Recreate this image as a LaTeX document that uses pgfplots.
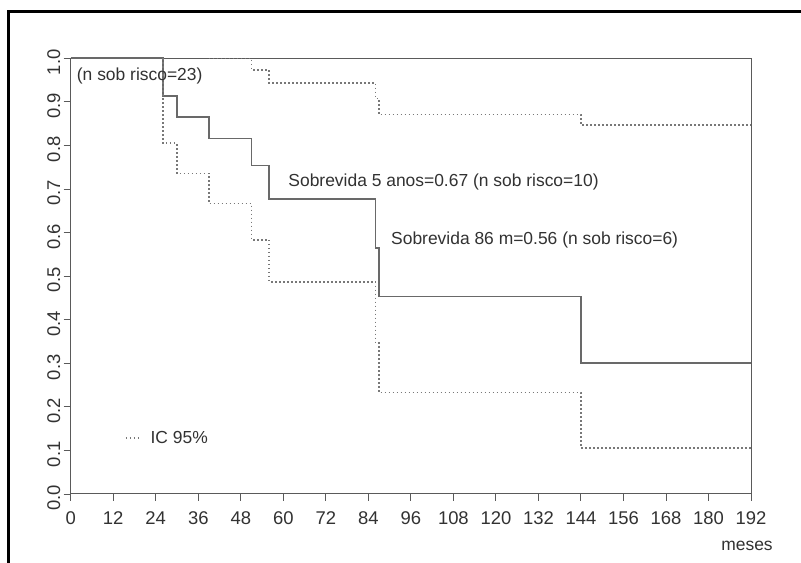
\documentclass[border=0pt]{standalone}
\usepackage{fontspec}
\setmainfont{Liberation Sans}
\usepackage{pgfplots}
\pgfplotsset{compat=1.18}
\definecolor{txt}{RGB}{50,50,50}
\definecolor{solidc}{RGB}{105,105,105}
\definecolor{dotc}{RGB}{120,120,120}
\definecolor{axc}{RGB}{90,90,90}
\begin{document}
\begin{tikzpicture}[x=1bp,y=1bp]
\useasboundingbox (0,0) rectangle (801,563);
\fill[white] (0,0) rectangle (801,563);
\draw[black, line width=3bp] (8,-3) -- (8,551) -- (804,551);
\begin{axis}[
  at={(70.7bp,69bp)}, anchor=south west,
  scale only axis, width=680.3bp, height=435.7bp,
  xmin=0, xmax=192, ymin=0, ymax=1,
  xtick={0,12,24,36,48,60,72,84,96,108,120,132,144,156,168,180,192},
  ytick={0,0.1,0.2,0.3,0.4,0.5,0.6,0.7,0.8,0.9,1.0},
  tick align=outside, xtick pos=left, ytick pos=left,
  major tick length=7bp,
  tick style={axc, line width=0.9bp},
  axis line style={axc, line width=1bp},
  /pgf/number format/assume math mode=true,
  ticklabel style={font=\fontsize{18.5}{21}\selectfont, text=txt},
  xticklabel style={anchor=north, yshift=-7bp},
  yticklabel style={rotate=90, anchor=south, xshift=-4bp,
    /pgf/number format/fixed, /pgf/number format/fixed zerofill,
    /pgf/number format/precision=1},
  legend style={draw=none, fill=none, at={(axis cs:15.3,0.128)}, anchor=west,
    font=\fontsize{17.5}{20}\selectfont, text=txt, inner sep=0pt,
    nodes={inner sep=0pt}, legend cell align=left},
  legend image code/.code={\draw[#1] (0bp,0bp) -- (15bp,0bp); \path (24bp,0bp);},
  clip=false,
]
% Kaplan-Meier estimate
\addplot[const plot mark left, solidc, line width=1.7bp, forget plot] coordinates {
 (0,1) (26,0.913) (30,0.866) (39,0.816) (51,0.754) (56,0.677)
 (86,0.564) (87,0.453) (144,0.300) (192,0.300)};
% upper 95% CI
\addplot[const plot mark left, dotc, line width=1.5bp, dash pattern=on 1.5bp off 2.5bp] coordinates {
 (39,1) (51,0.973) (56,0.943) (86,0.908) (87,0.871) (144,0.847) (192,0.847)};
\addlegendentry{IC 95\%}
% lower 95% CI
\addplot[const plot mark left, dotc, line width=1.5bp, dash pattern=on 1.5bp off 2.5bp, forget plot] coordinates {
 (26,1) (26,0.805) (30,0.736) (39,0.667) (51,0.583) (56,0.487)
 (86,0.346) (87,0.233) (144,0.106) (192,0.106)};
\node[anchor=west, text=txt, font=\fontsize{17.5}{20}\selectfont, inner sep=0pt] at (axis cs:1.7,0.959) {(n sob risco=23)};
\node[anchor=west, text=txt, font=\fontsize{17.5}{20}\selectfont, inner sep=0pt] at (axis cs:61.4,0.717) {Sobrevida 5 anos=0.67 (n sob risco=10)};
\node[anchor=west, text=txt, font=\fontsize{17.5}{20}\selectfont, inner sep=0pt] at (axis cs:90.4,0.583) {Sobrevida 86 m=0.56 (n sob risco=6)};
\end{axis}
\node[text=txt, font=\fontsize{17.5}{20}\selectfont] at (747,17) {meses};
\end{tikzpicture}
\end{document}
